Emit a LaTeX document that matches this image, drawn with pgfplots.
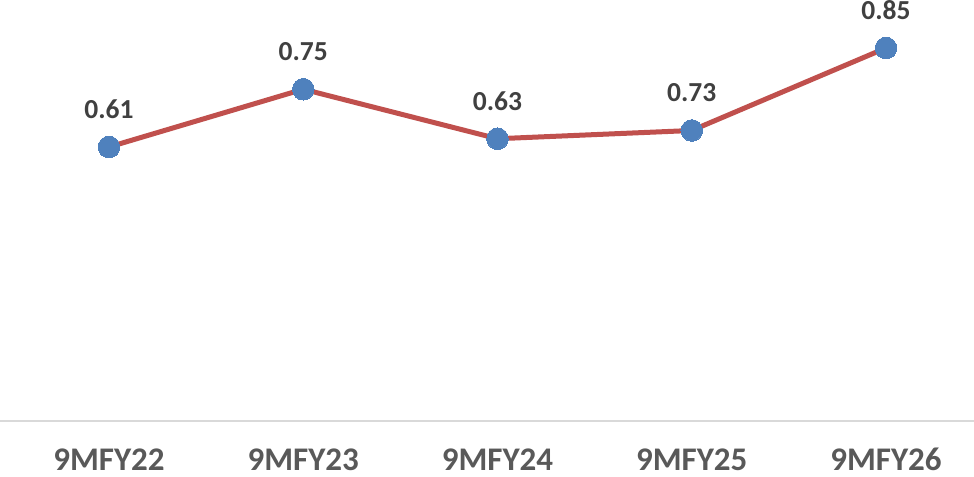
\documentclass[border=0pt]{standalone}
\usepackage{fontspec}
\setmainfont{Carlito}
\usepackage{pgfplots}
\pgfplotsset{compat=1.18}
\definecolor{linered}{HTML}{C0504D}
\definecolor{dotblue}{HTML}{4F81BD}
\definecolor{ticktext}{HTML}{595959}
\definecolor{labeltext}{HTML}{404040}
\definecolor{baseline}{HTML}{D9D9D9}
\begin{document}
\begin{tikzpicture}
\begin{axis}[
    name=ax,
    scale only axis,
    width=487bp, height=210.5bp,
    xmin=-0.5611, xmax=4.453,
    ymin=-0.0543, ymax=0.9663,
    axis x line*=bottom,
    axis y line=none,
    x axis line style={draw=baseline, line width=0.9bp, -},
    xtick={0,1,2,3,4},
    xticklabels={9MFY22,9MFY23,9MFY24,9MFY25,9MFY26},
    major tick length=0pt,
    xticklabel style={anchor=center, yshift=-19.3bp,
        font=\fontsize{16.5bp}{18bp}\selectfont\bfseries, text=ticktext},
    clip=false,
    point meta=explicit symbolic,
    nodes near coords,
    every node near coord/.append style={anchor=center, yshift=18.75bp,
        font=\fontsize{13.75bp}{15bp}\selectfont\bfseries, text=labeltext},
]
\addplot[color=linered, line width=2.5bp, mark=*, mark size=5.4bp,
    mark options={fill=dotblue, draw=dotblue, line width=0pt}]
    table[meta=label] {
x y label
0 0.61 0.61
1 0.75 0.75
2 0.63 0.63
3 0.65 0.73
4 0.85 0.85
};
\end{axis}
\pgfresetboundingbox
\path (ax.south west) ++(0,-27.5bp) rectangle (ax.north east);
\end{tikzpicture}
\end{document}
